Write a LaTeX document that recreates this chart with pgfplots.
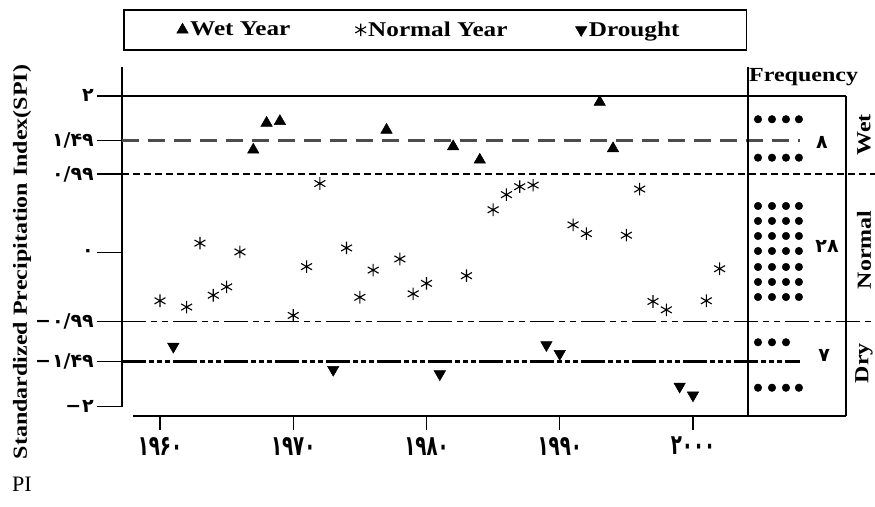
\documentclass[border=0pt]{standalone}
\usepackage{pgfplots}
\pgfplotsset{compat=1.18}
\usepackage{fontspec}
\setmainfont{Liberation Serif}[FakeStretch=1.2]
\newfontfamily\plainserif{Liberation Serif}
\newfontfamily\fa[Script=Arabic]{DejaVu Sans}
\newfontfamily\fax[Script=Arabic,FakeStretch=0.65]{DejaVu Sans}
\begin{document}
\begin{tikzpicture}
\begin{axis}[
  at={(0pt,0pt)}, anchor=south west,
  scale only axis, width=626pt, height=340pt,
  xmin=1957.148, xmax=2004.13,
  ymin=-2.0034, ymax=2.332,
  y coord trafo/.code={\pgfmathparse{ifthenelse(#1>=1.49,112.2+(#1-1.49)*87.25,ifthenelse(#1>=0.99,78.7+(#1-0.99)*67,ifthenelse(#1>=0,#1*79.49,ifthenelse(#1>=-0.99,#1*69.70,ifthenelse(#1>=-1.49,-69+(#1+0.99)*80,-109+(#1+1.49)*88.24)))))}},
  clip=false,
  axis x line=none,
  axis y line=left,
  axis line style={-, line width=1.4pt},
  ytick={-2,-1.49,-0.99,0,0.99,1.49,2},
  yticklabels={\hbox{−\kern1pt}\hbox{۲},\hbox{−\kern1pt}\hbox{۱/۴۹},\hbox{−\kern1pt}\hbox{۰/۹۹},۰,۰/۹۹,۱/۴۹,۲},
  ytick align=outside,
  major tick length=25pt,
  tick style={line width=1.2pt, black},
  yticklabel style={font=\fa\bfseries\fontsize{19}{19}\selectfont, inner sep=0pt, xshift=-3pt},
  legend columns=3,
  legend style={at={(axis description cs:0.0016,1.1706)}, anchor=north west, draw=black, line width=1.6pt,
    inner xsep=53pt, inner ysep=10pt, font=\bfseries\fontsize{21}{21}\selectfont,
    /tikz/column 2/.style={column sep=63pt}, /tikz/column 4/.style={column sep=66pt}},
  legend image code/.code={\draw[#1, mark repeat=2, mark phase=2] plot coordinates {(0pt,0pt)(6pt,0pt)(12pt,0pt)};},
]
% threshold lines
\addplot[forget plot, line width=2.6pt] coordinates {(1957.148,2) (2011.48,2)};
\addplot[forget plot, line width=2.2pt, black!70, dash pattern=on 17pt off 9pt] coordinates {(1957.148,1.49) (2008.03,1.49)};
\addplot[forget plot, line width=1.5pt, dash pattern=on 7pt off 4pt] coordinates {(1957.148,0.99) (2013.66,0.99)};
\addplot[forget plot, line width=1.5pt, dash pattern=on 24pt off 5pt on 6pt off 5pt on 6pt off 5pt] coordinates {(1957.148,-0.99) (2013.66,-0.99)};
\addplot[forget plot, line width=2.8pt, dash pattern=on 24pt off 3pt on 5pt off 3pt on 5pt off 3pt on 5pt off 3pt] coordinates {(1957.148,-1.49) (2008.03,-1.49)};
% frequency panel frame
\addplot[forget plot, line width=1.3pt] coordinates {(2004.13,-2.105) (2004.13,2.332)};
\addplot[forget plot, line width=1.3pt] coordinates {(2011.48,2) (2011.48,-2.105)};
% data
\addplot[only marks, mark=triangle*, mark size=6.6pt, fill=black, draw=black, line width=0.5pt]
 coordinates {(1967,1.35)(1968,1.69)(1969,1.71)(1977,1.61)(1982,1.40)(1984,1.20)(1993,1.93)(1994,1.37)};
\addlegendentry{Wet Year}
\addplot[only marks, mark=asterisk, mark size=6.3pt, draw=black, line width=1.1pt]
 coordinates {(1960,-0.69)(1962,-0.78)(1963,0.12)(1964,-0.61)(1965,-0.49)(1966,0.01)(1970,-0.90)(1971,-0.20)(1972,0.87)(1974,0.06)(1975,-0.64)(1976,-0.25)(1978,-0.09)(1979,-0.59)(1980,-0.44)(1983,-0.33)(1985,0.54)(1986,0.73)(1987,0.83)(1988,0.85)(1991,0.35)(1992,0.24)(1995,0.22)(1996,0.80)(1997,-0.70)(1998,-0.82)(2001,-0.69)(2002,-0.23)};
\addlegendentry{Normal Year}
\addplot[only marks, mark=triangle*, mark size=6.6pt, mark options={rotate=180}, fill=black, draw=black, line width=0.5pt]
 coordinates {(1961,-1.30)(1973,-1.58)(1981,-1.63)(1989,-1.28)(1990,-1.39)(1999,-1.77)(2000,-1.87)};
\addlegendentry{Drought\rule{12pt}{0pt}}
% frequency dots
\addplot[forget plot, only marks, mark=*, mark size=3.8pt, black]
 coordinates {(2004.88,1.733)(2005.93,1.733)(2006.98,1.733)(2007.95,1.733)
 (2004.88,1.233)(2005.93,1.233)(2006.98,1.233)(2007.95,1.233)
 (2004.88,0.5875)(2005.93,0.5875)(2006.98,0.5875)(2007.95,0.5875)
 (2004.88,0.399)(2005.93,0.399)(2006.98,0.399)(2007.95,0.399)
 (2004.88,0.210)(2005.93,0.210)(2006.98,0.210)(2007.95,0.210)
 (2004.88,0.021)(2005.93,0.021)(2006.98,0.021)(2007.95,0.021)
 (2004.88,-0.205)(2005.93,-0.205)(2006.98,-0.205)(2007.95,-0.205)
 (2004.88,-0.420)(2005.93,-0.420)(2006.98,-0.420)(2007.95,-0.420)
 (2004.88,-0.636)(2005.93,-0.636)(2006.98,-0.636)(2007.95,-0.636)
 (2004.88,-1.2475)(2005.93,-1.2475)(2006.98,-1.2475)
 (2004.88,-1.785)(2005.93,-1.785)(2006.98,-1.785)(2007.95,-1.785)};
% texts
\node[font=\fa\bfseries\fontsize{19}{19}\selectfont, inner sep=0pt] at (axis cs:2009.68,1.453) {۸};
\node[font=\fa\bfseries\fontsize{19}{19}\selectfont, inner sep=0pt] at (axis cs:2010.06,0.084) {۲۸};
\node[font=\fa\bfseries\fontsize{19}{19}\selectfont, inner sep=0pt] at (axis cs:2009.84,-1.406) {۷};
\node[font=\bfseries\fontsize{20}{20}\selectfont, rotate=90, inner sep=0pt] at (axis cs:2012.83,1.553) {Wet};
\node[font=\bfseries\fontsize{20}{20}\selectfont, rotate=90, inner sep=0pt] at (axis cs:2012.83,0.034) {Normal};
\node[font=\bfseries\fontsize{20}{20}\selectfont, rotate=90, inner sep=0pt] at (axis cs:2012.83,-1.505) {Dry};
\node[font=\bfseries\fontsize{20}{20}\selectfont, inner sep=0pt] at (axis cs:2008.3,2.218) {Frequency};
\node[font=\bfseries\fontsize{20}{20}\selectfont, rotate=90, inner sep=0pt] at (axis description cs:-0.1597,0.4265) {Standardized Precipitation Index(SPI)};
\node[font=\plainserif\fontsize{22}{22}\selectfont, inner sep=0pt] at (axis description cs:-0.1597,-0.228) {PI};
\end{axis}
\begin{axis}[
  at={(11pt,-9pt)}, anchor=south west,
  scale only axis, width=713pt, height=20pt,
  xmin=1957.974, xmax=2011.48, ymin=0, ymax=1,
  axis x line=bottom, axis y line=none,
  axis line style={-, line width=1.4pt},
  xtick={1960,1970,1980,1990,2000},
  xticklabels={۱۹۶۰,۱۹۷۰,۱۹۸۰,۱۹۹۰,۲۰۰۰},
  xtick align=outside, major tick length=14pt,
  tick style={line width=1.2pt, black},
  xticklabel style={font=\fax\bfseries\fontsize{28}{28}\selectfont, inner sep=0pt, yshift=-7pt},
]
\addplot[draw=none, forget plot] coordinates {(1960,0.5)};
\end{axis}
\pgfresetboundingbox
\path[use as bounding box] (-122pt,-99pt) rectangle (753pt,407pt);
\end{tikzpicture}
\end{document}
